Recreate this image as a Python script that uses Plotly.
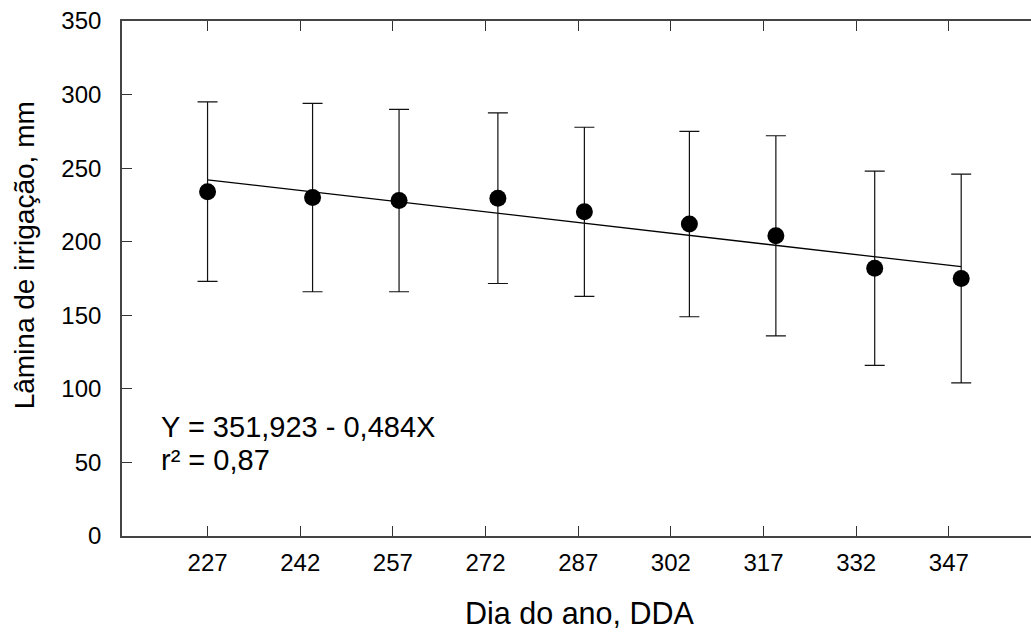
import plotly.graph_objects as go

# Dia do ano (DDA) de cada avaliação
dias = [227, 244, 258, 274, 288, 305, 319, 335, 349]
# Lâmina média de irrigação (mm)
lamina = [234, 230, 228, 229.6, 220.3, 212, 204, 182, 175]
# Desvio padrão (mm)
desvio = [61, 64, 62, 58, 57.5, 63, 68, 66, 71]

# Marcas dos eixos
ticks_x = [227, 242, 257, 272, 287, 302, 317, 332, 347]
ticks_y = [0, 50, 100, 150, 200, 250, 300, 350]

# Coeficientes da regressão linear ajustada
intercepto = 351.923
inclinacao = -0.484
x_reta = [dias[0], dias[-1]]
y_reta = [intercepto + inclinacao * x for x in x_reta]

FONTE = "Liberation Sans, Arial, sans-serif"

fig = go.Figure()

fig.add_trace(go.Scatter(
    x=x_reta, y=y_reta, mode="lines",
    line=dict(color="black", width=1.3),
    showlegend=False, hoverinfo="skip",
))

fig.add_trace(go.Scatter(
    x=dias, y=lamina, mode="markers",
    marker=dict(color="black", size=17, line=dict(width=0)),
    error_y=dict(type="data", array=desvio, visible=True,
                 color="#111111", thickness=1.2, width=10),
    showlegend=False,
))

fig.add_annotation(
    xref="paper", yref="paper", x=0.0405, y=0.212,
    text="Y = 351,923 - 0,484X", showarrow=False,
    xanchor="left", yanchor="middle",
    font=dict(family=FONTE, size=29, color="black"),
)
fig.add_annotation(
    xref="paper", yref="paper", x=0.0405, y=0.147,
    text="r² = 0,87", showarrow=False,
    xanchor="left", yanchor="middle",
    font=dict(family=FONTE, size=29, color="black"),
)

# Títulos dos eixos
fig.add_annotation(
    xref="paper", yref="paper", x=(580 - 122) / 909, y=-0.15,
    text="Dia do ano, DDA", showarrow=False,
    xanchor="center", yanchor="middle",
    font=dict(family=FONTE, size=30.5, color="black"),
)
fig.add_annotation(
    xref="paper", yref="paper", x=(24 - 122) / 909, y=0.545,
    text="Lâmina de irrigação, mm", showarrow=False, textangle=-90,
    xanchor="center", yanchor="middle",
    font=dict(family=FONTE, size=28, color="black"),
)

fig.update_layout(
    width=1031, height=633,
    margin=dict(l=122, r=0, t=21, b=97),
    plot_bgcolor="white", paper_bgcolor="white",
    font=dict(family=FONTE, color="black"),
)

fig.update_xaxes(
    range=[213.15, 360.3],
    tickvals=ticks_x, ticktext=[str(t) for t in ticks_x],
    ticks="inside", ticklen=10, tickwidth=1.3, tickcolor="#333333",
    showline=True, linecolor="#444444", linewidth=1.6, mirror="ticks",
    showgrid=False, zeroline=False,
    tickfont=dict(family=FONTE, size=24, color="black"),
    ticklabelstandoff=4,
)
fig.update_yaxes(
    range=[0, 350],
    tickvals=ticks_y,
    ticks="inside", ticklen=10, tickwidth=1.3, tickcolor="#333333",
    showline=True, linecolor="#444444", linewidth=1.6, mirror=False,
    showgrid=False, zeroline=False,
    tickfont=dict(family=FONTE, size=24, color="black"),
    ticklabelstandoff=14,
)

fig.write_html("out.html")
